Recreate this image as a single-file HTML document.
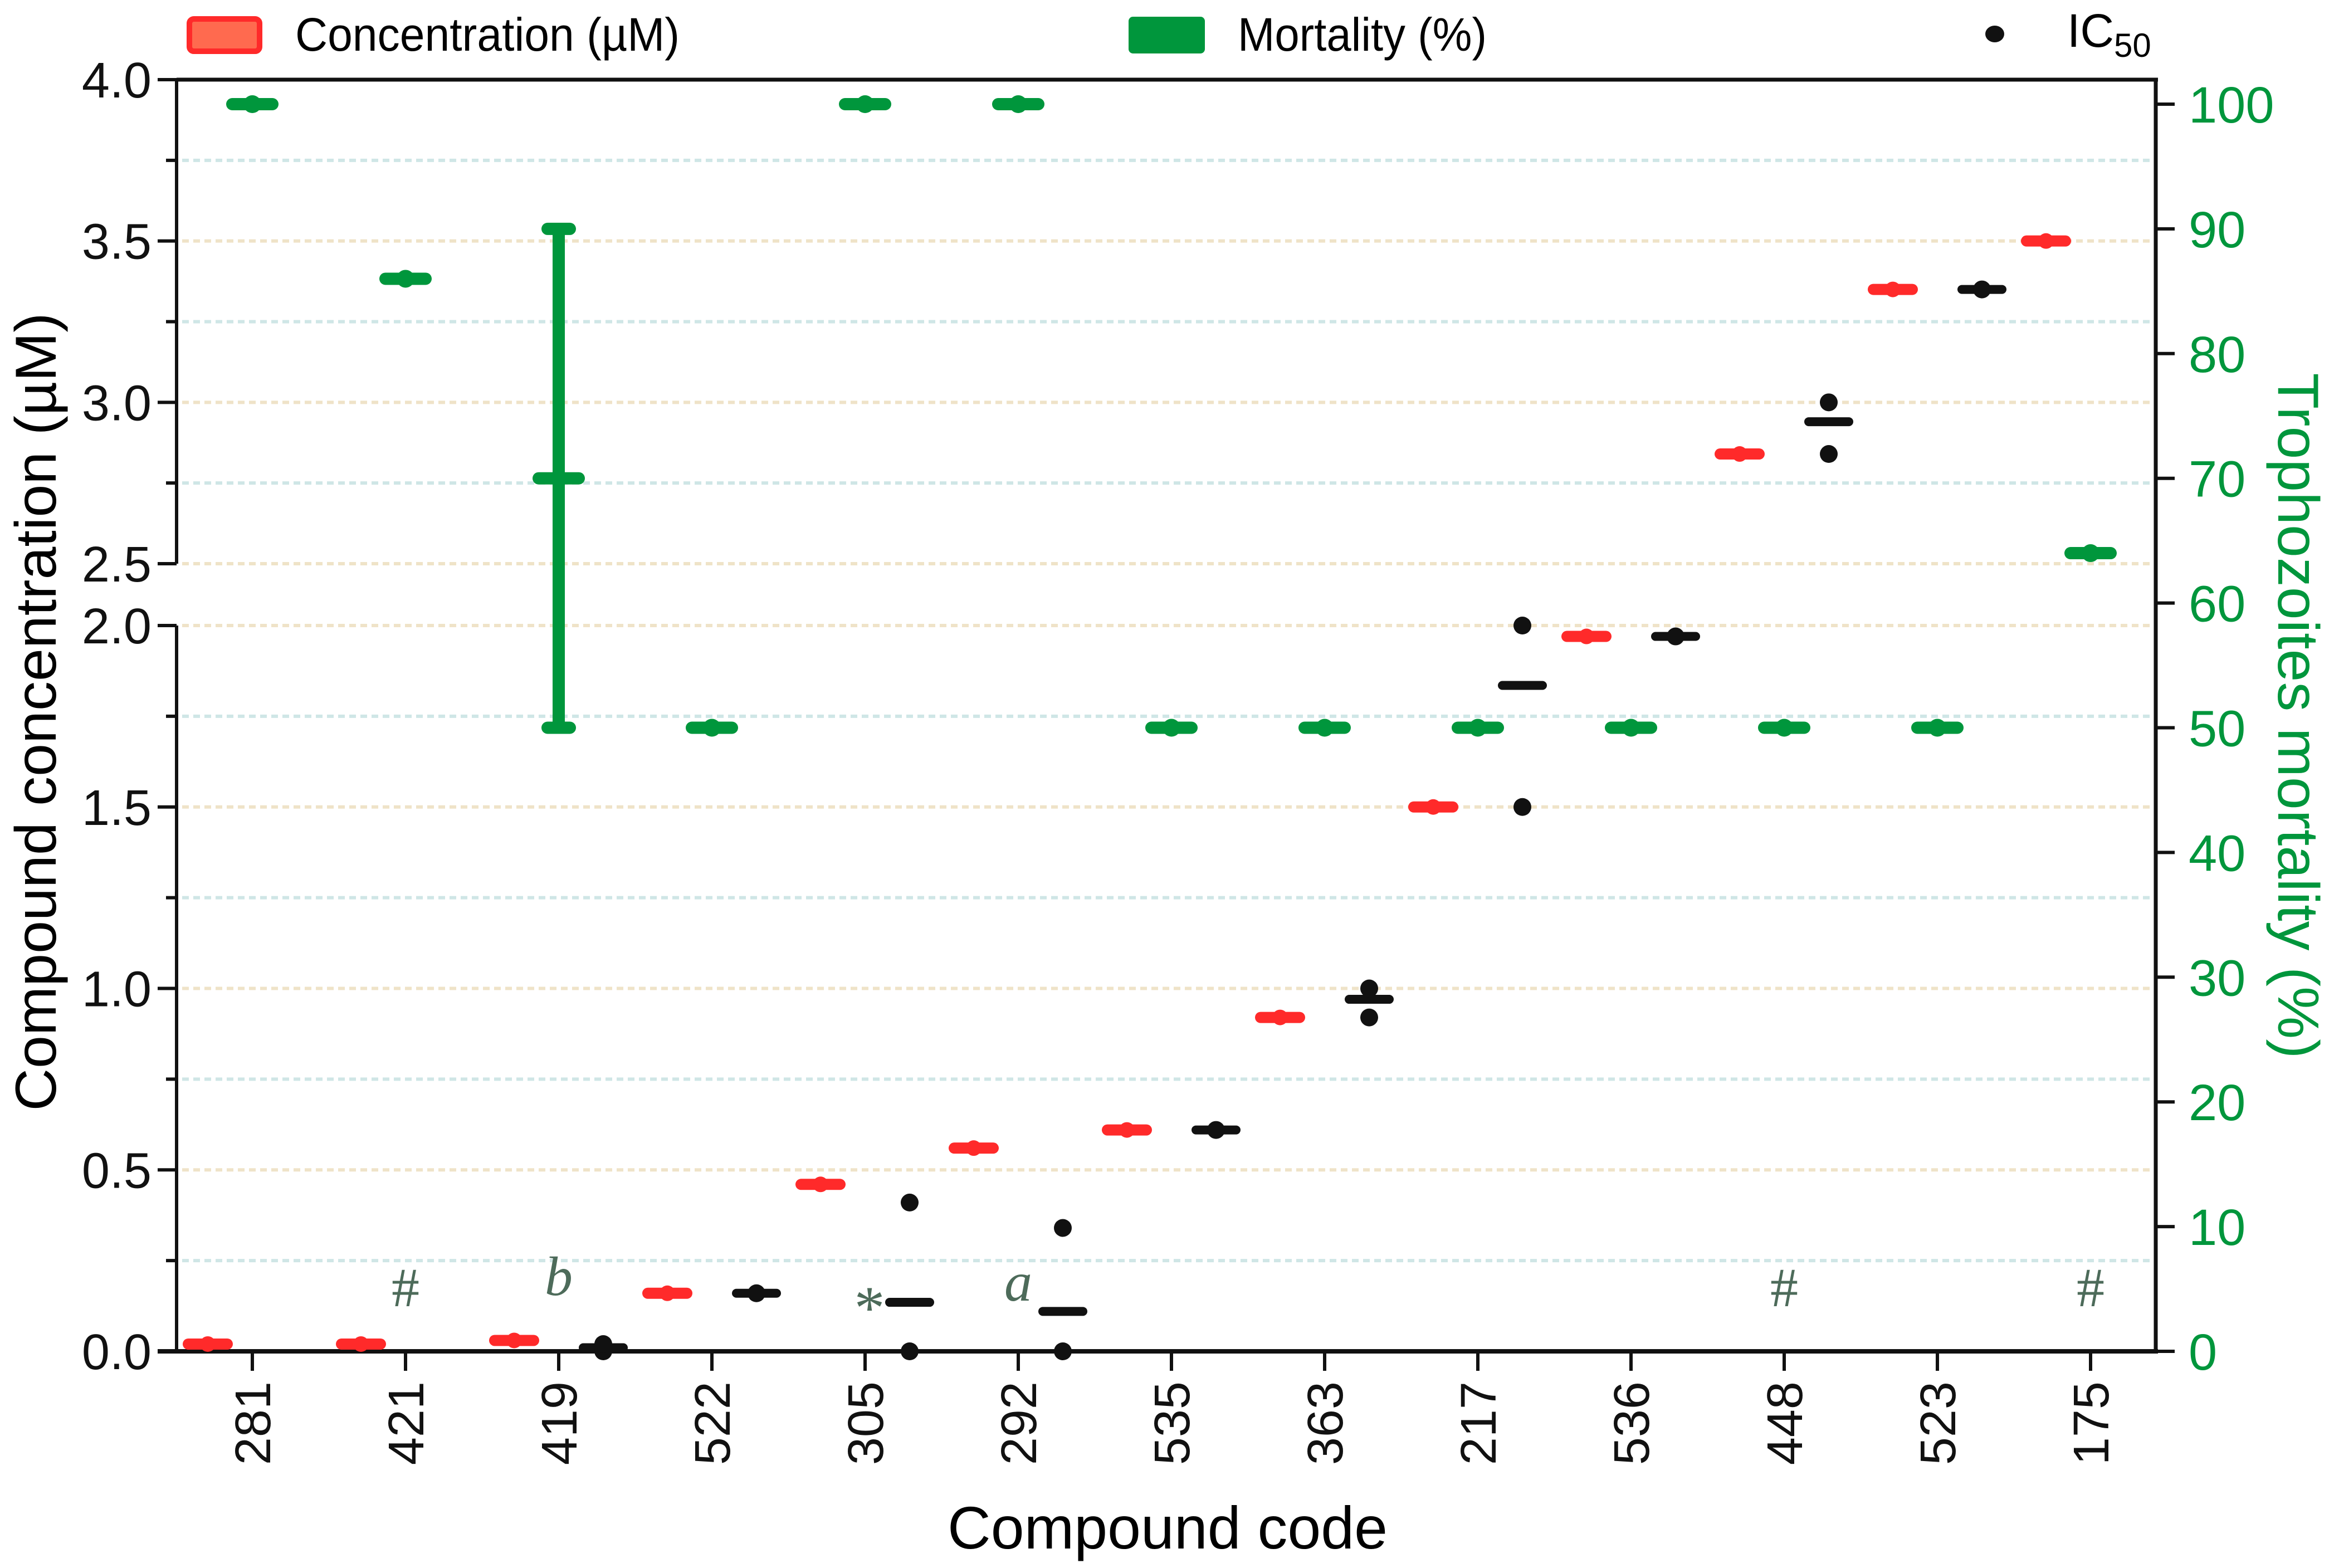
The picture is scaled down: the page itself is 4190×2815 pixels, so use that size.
<!DOCTYPE html>
<html><head><meta charset="utf-8"><title>Compound concentration and mortality chart</title>
<style>
html,body{margin:0;padding:0;background:#fff;}
svg{display:block;font-family:"Liberation Sans",Arial,sans-serif;}
</style></head>
<body>
<svg id="chart" width="4190" height="2815" viewBox="0 0 4190 2815" xmlns="http://www.w3.org/2000/svg">
<g id="grid"></g>
<g id="axes"></g>
<g id="marks"></g>
<g id="legend">
  <rect x="340" y="34" width="126" height="58" rx="8" fill="#ff6a4f" stroke="#ff2a2a" stroke-width="10"/>
  <text x="530" y="91" font-size="84" textLength="690" lengthAdjust="spacingAndGlyphs">Concentration (µM)</text>
  <rect x="2026" y="30" width="137" height="66" rx="8" fill="#00963c"/>
  <text x="2222" y="91" font-size="84" textLength="447" lengthAdjust="spacingAndGlyphs">Mortality (%)</text>
  <ellipse cx="3581" cy="61" rx="17" ry="15" fill="#111"/>
  <text x="3711" y="84" font-size="84">IC<tspan font-size="60" dy="18">50</tspan></text>
</g>
<text transform="translate(100,1278) rotate(-90)" text-anchor="middle" font-size="104" textLength="1433" lengthAdjust="spacingAndGlyphs">Compound concentration (µM)</text>
<text transform="translate(4090,1285) rotate(90)" text-anchor="middle" font-size="104" fill="#00963c" textLength="1231" lengthAdjust="spacingAndGlyphs">Trophozoites mortality (%)</text>
<text x="2096" y="2780" text-anchor="middle" font-size="108" textLength="790" lengthAdjust="spacingAndGlyphs">Compound code</text>
</svg>
<script>
const categories = ["281","421","419","522","305","292","535","363","217","536","448","523","175"];
const concentration = [0.02,0.02,0.03,0.16,0.46,0.56,0.61,0.92,1.50,1.97,2.84,3.35,3.50];
const mortality = [100,86,70,50,100,100,50,50,50,50,50,50,64];
const mortalityLow = [null,null,50,null,null,null,null,null,null,null,null,null,null];
const mortalityHigh = [null,null,90,null,null,null,null,null,null,null,null,null,null];
const ic50Mean = [null,null,0.01,0.16,0.135,0.11,0.61,0.97,1.835,1.97,2.94,3.35,null];
const ic50Points = [[],[],[0.0,0.02],[0.16],[0.41,0.0],[0.34,0.0],[0.61],[1.0,0.92],[2.0,1.5],[1.97],[3.0,2.84],[3.35],[]];
const annotations = [["421","#"],["419","b"],["305","*"],["292","a"],["448","#"],["175","#"]];
const leftTicksLower = [0.0,0.5,1.0,1.5,2.0];
const leftTicksUpper = [2.5,3.0,3.5,4.0];
const leftMinorLower = [0.25,0.75,1.25,1.75];
const leftMinorUpper = [2.75,3.25,3.75];
const rightTicks = [0,10,20,30,40,50,60,70,80,90,100];

const NS="http://www.w3.org/2000/svg";
const X0=317, X1=3870, YTOP=143, YBOT=2426, YBRK_UP=1012, YBRK_LO=1123;
const xPos = i => 453 + 275*i;
function yL(v){ return v<=2.0 ? YBOT - v*(YBOT-YBRK_LO)/2.0 : YBRK_UP - (v-2.5)*(YBRK_UP-YTOP)/1.5; }
function yR(p){ return YBOT - p*(YBOT-187)/100; }
function mk(tag, attrs, parent){ const e=document.createElementNS(NS,tag); for(const k in attrs) e.setAttribute(k,attrs[k]); parent.appendChild(e); return e; }
const grid=document.getElementById('grid'), axes=document.getElementById('axes'), marks=document.getElementById('marks');

// gridlines
[...leftTicksLower.filter(v=>v>0), ...leftTicksUpper.filter(v=>v<4)].forEach(v=>{
  const l=mk('line',{x1:X0+10,x2:X1-10,y1:yL(v),y2:yL(v),stroke:'#efe3c8','stroke-width':6,'stroke-dasharray':'12 8'},grid);
  
  
});
[...leftMinorLower, ...leftMinorUpper].forEach(v=>{
  const l=mk('line',{x1:X0+10,x2:X1-10,y1:yL(v),y2:yL(v),stroke:'#cfe6e6','stroke-width':6,'stroke-dasharray':'12 8'},grid);
  
  
});

// axes lines
let a;
a=mk('line',{x1:X0,x2:X0,y1:YTOP-3,y2:YBRK_UP,stroke:'#111','stroke-width':6},axes);
 
a=mk('line',{x1:X0,x2:X0,y1:YBRK_LO,y2:YBOT,stroke:'#111','stroke-width':6},axes);
 
a=mk('line',{x1:X0,x2:X1+4,y1:YTOP,y2:YTOP,stroke:'#111','stroke-width':7},axes);
 
a=mk('line',{x1:X1,x2:X1,y1:YTOP,y2:YBOT,stroke:'#111','stroke-width':7},axes);
 
a=mk('line',{x1:283,x2:X1+4,y1:YBOT,y2:YBOT,stroke:'#111','stroke-width':8},axes);
 

// left ticks and labels
[...leftTicksLower, ...leftTicksUpper].forEach(v=>{
  const y=yL(v);
  const t=mk('line',{x1:283,x2:X0,y1:y,y2:y,stroke:'#111','stroke-width':6},axes);
   
  const tx=mk('text',{x:272,y:y+32,'text-anchor':'end','font-size':90,fill:'#111'},axes);
  tx.textContent=v.toFixed(1);
   
});
[...leftMinorLower, ...leftMinorUpper].forEach(v=>{
  const y=yL(v);
  const t=mk('line',{x1:298,x2:X0,y1:y,y2:y,stroke:'#111','stroke-width':6},axes);
   
});
// right ticks
rightTicks.forEach(p=>{
  const y=yR(p);
  const t=mk('line',{x1:X1,x2:3904,y1:y,y2:y,stroke:'#111','stroke-width':6},axes);
   
  const tx=mk('text',{x:3929,y:y+33,'font-size':92,fill:'#00963c'},axes);
  tx.textContent=String(p);
   
});
// x ticks
categories.forEach((c,i)=>{
  const x=xPos(i);
  const t=mk('line',{x1:x,x2:x,y1:YBOT,y2:2461,stroke:'#111','stroke-width':6},axes);
   
  const tx=mk('text',{transform:`translate(${x+32},2480) rotate(-90)`,'text-anchor':'end','font-size':90,fill:'#111'},axes);
  tx.textContent=c;
   
});

function bar(x,y,w,h,color,dot,name){
  const g=mk('g',{},marks);
  
  
  mk('rect',{x:x-w/2,y:y-h/2,width:w,height:h,rx:h/2,fill:color},g);
  if(dot) mk('circle',{cx:x,cy:y,r:dot,fill:color},g);
  return g;
}
// concentration (red)
concentration.forEach((v,i)=>{
  bar(xPos(i)-80, yL(v), 90, 20, '#ff2a2a', 14, 'concentration-marker-'+categories[i]);
});
// mortality (green)
mortality.forEach((p,i)=>{
  const x=xPos(i);
  if(mortalityLow[i]!==null){
    const e=mk('line',{x1:x,x2:x,y1:yR(mortalityHigh[i]),y2:yR(mortalityLow[i]),stroke:'#00963c','stroke-width':22},marks);
    
    
    bar(x, yR(mortalityHigh[i]), 62, 22, '#00963c', 0, 'mortality-errorcap-high');
    bar(x, yR(mortalityLow[i]), 62, 22, '#00963c', 0, 'mortality-errorcap-low');
    bar(x, yR(p), 94, 22, '#00963c', 0, 'mortality-marker-'+categories[i]);
  } else {
    bar(x, yR(p), 94, 22, '#00963c', 16, 'mortality-marker-'+categories[i]);
  }
});
// IC50 (black)
ic50Mean.forEach((m,i)=>{
  if(m===null) return;
  const x=xPos(i)+80;
  bar(x, yL(m), 88, 16, '#111', 0, 'ic50-mean-'+categories[i]);
  ic50Points[i].forEach(v=>{
    const d=mk('circle',{cx:x,cy:yL(v),r:16,fill:'#111'},marks);
    
    
  });
});
// annotations
annotations.forEach(([c,s])=>{
  const i=categories.indexOf(c);
  let x=xPos(i), y=2345;
  if(s==='b'){ y=2325; }
  if(s==='a'){ x=xPos(i); y=2335; }
  if(s==='*'){ x=xPos(i)+8; y=2385; }
  const t=mk('text',{x:x,y:y,'text-anchor':'middle','font-size':s==='*'?110:100,'font-family':'"Liberation Serif",serif','font-style':(s==='a'||s==='b')?'italic':'normal',fill:'#4d6b5a'},marks);
  t.textContent=s;
  
  
});
</script>
</body></html>
